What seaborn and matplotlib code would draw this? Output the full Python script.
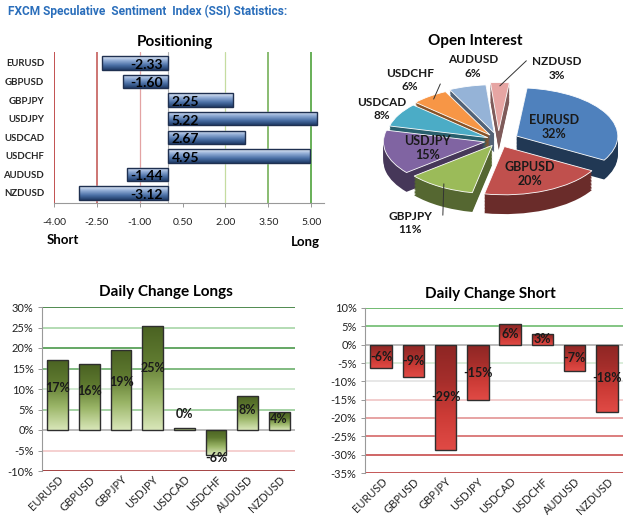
import numpy as np
import matplotlib
matplotlib.use("Agg")
import matplotlib.pyplot as plt
import seaborn as sns
from matplotlib.colors import LinearSegmentedColormap, to_rgb
from matplotlib.patches import Rectangle

# ---------------- data ----------------
pairs = ["EURUSD", "GBPUSD", "GBPJPY", "USDJPY", "USDCAD", "USDCHF", "AUDUSD", "NZDUSD"]
ssi = [-2.33, -1.60, 2.25, 5.22, 2.67, 4.95, -1.44, -3.12]
ssi_labels = ["-2.33", "-1.60", "2.25", "5.22", "2.67", "4.95", "-1.44", "-3.12"]
pos_ticks = [-4.00, -2.50, -1.00, 0.50, 2.00, 3.50, 5.00]

oi_share = [32, 20, 11, 15, 8, 6, 6, 3]
oi_labels = ["32%", "20%", "11%", "15%", "8%", "6%", "6%", "3%"]

chg_long = [17.1, 16.0, 19.6, 25.4, 0.4, -6.2, 8.3, 4.3]
chg_long_labels = ["17%", "16%", "19%", "25%", "0%", "-6%", "8%", "4%"]
long_ticks = [-10, -5, 0, 5, 10, 15, 20, 25, 30]

chg_short = [-6.5, -8.8, -28.6, -15.2, 5.6, 3.0, -7.3, -18.3]
chg_short_labels = ["-6%", "-9%", "-29%", "-15%", "6%", "3%", "-7%", "-18%"]
short_ticks = [-35, -30, -25, -20, -15, -10, -5, 0, 5, 10]

# ---------------- style ----------------
sns.set_theme(style="white")
plt.rcParams["font.family"] = ["Lato", "DejaVu Sans"]
W, H = 625, 520
fig = plt.figure(figsize=(W / 100, H / 100), dpi=100, facecolor="white")


def fax(l, t, r, b):
    return fig.add_axes([l / W, 1 - b / H, (r - l) / W, (b - t) / H])


def grad_bars(ax, cmap, edge):
    """Overlay a vertical gradient on each bar (row 0 = screen bottom)."""
    xl, yl = ax.get_xlim(), ax.get_ylim()
    inverted = yl[0] > yl[1]
    g = np.linspace(0, 1, 64).reshape(-1, 1)
    for p in list(ax.patches):
        x0, y0, w, h = p.get_x(), p.get_y(), p.get_width(), p.get_height()
        ylo, yhi = min(y0, y0 + h), max(y0, y0 + h)
        yb, yt = (yhi, ylo) if inverted else (ylo, yhi)
        im = ax.imshow(g, cmap=cmap, origin="lower", aspect="auto",
                       extent=(x0, x0 + w, yb, yt), zorder=2.1, interpolation="bicubic")
        im.set_clip_path(p)
        ax.add_patch(Rectangle((x0, y0), w, h, fill=False, edgecolor=edge,
                               linewidth=1.0, zorder=2.2))
    ax.set_xlim(xl)
    ax.set_ylim(yl)


fig.text(8 / W, 1 - 11 / H, "FXCM Speculative  Sentiment  Index (SSI) Statistics:",
         color="#2a6ebb", fontsize=8.6, fontweight="bold",
         family=["Roboto", "DejaVu Sans"], va="center", ha="left")

# ---------------- Positioning ----------------
ax1 = fax(54, 52, 324, 203)
sns.barplot(x=ssi, y=pairs, orient="h", ax=ax1, color="#4f81bd", width=0.72,
            saturation=1, zorder=2)
ax1.set_xlim(-4.0, 5.45)
ax1.set_ylim(7.54, -0.59)
blue = LinearSegmentedColormap.from_list("b", ["#1f3b66", "#4a6fa5", "#8eaad4", "#e6edf7"])
grad_bars(ax1, blue, "#1f3050")
vcols = {-4.0: "#b22222", -2.5: "#c0504d", -1.0: "#e3a3a3", 2.0: "#c5dca0",
         3.5: "#6aaa4a", 5.0: "#3f9a2a"}
for xv, c in vcols.items():
    ax1.axvline(xv, color=c, lw=1.1 if xv in (-4.0, -2.5, 3.5, 5.0) else 0.9, zorder=1)
ax1.axvline(0, color="#b0b0b0", lw=0.8, zorder=1)
for i, (v, lab) in enumerate(zip(ssi, ssi_labels)):
    if v < 0:
        ax1.text(-0.2, i + 0.1, lab, ha="right", va="center", fontsize=10,
                 fontweight="bold", color="black", zorder=5)
    else:
        ax1.text(0.12, i + 0.1, lab, ha="left", va="center", fontsize=10,
                 fontweight="bold", color="black", zorder=5)
ax1.set_xticks(pos_ticks)
ax1.set_xticklabels([f"{t:.2f}" for t in pos_ticks], fontsize=7.5, color="#222222")
ax1.tick_params(axis="x", length=3, width=0.6, color="#888888", pad=8, bottom=True)
ax1.tick_params(axis="y", length=0, pad=7)
for lab in ax1.get_yticklabels():
    lab.set_fontsize(6.9)
    lab.set_fontweight("bold")
ax1.set_xlabel("")
ax1.set_ylabel("")
for s in ("top", "right", "left"):
    ax1.spines[s].set_visible(False)
ax1.spines["bottom"].set_color("#999999")
ax1.spines["bottom"].set_linewidth(0.8)
fig.text(175 / W, 1 - 42 / H, "Positioning", ha="center", va="center",
         fontsize=11, fontweight="bold", color="black")
fig.text(47 / W, 1 - 240 / H, "Short", ha="left", va="center", fontsize=9.5,
         fontweight="bold", color="black")
fig.text(320 / W, 1 - 242 / H, "Long", ha="right", va="center", fontsize=9.5,
         fontweight="bold", color="black")

# ---------------- Open Interest ----------------
ax2 = fax(372, 55, 625, 248)
pie_cols = ["#4f81bd", "#c0504d", "#9bbb59", "#8064a2", "#4bacc6", "#f79646",
            "#95b3d7", "#e6a5a3"]
side_cols = [tuple(np.array(to_rgb(c)) * 0.55) for c in pie_cols]
side_cols[0] = (0.13, 0.22, 0.33)
explode = [0.2, 0.14, 0.12, 0.14, 0.12, 0.14, 0.16, 0.2]
start = 84
depth = 0.4
for d in np.linspace(depth, 0.02, 14):
    ax2.pie(oi_share, colors=side_cols, startangle=start, counterclock=False,
            explode=explode, center=(0, -d), wedgeprops=dict(linewidth=0))
wedges, _ = ax2.pie(oi_share, colors=pie_cols, startangle=start, counterclock=False,
                    explode=explode, center=(0, 0),
                    wedgeprops=dict(linewidth=0.6, edgecolor="white"))
ax2.set_aspect("auto")
ax2.set_xlim(-1.25, 1.25)
ax2.set_ylim(-2.23, 1.77)
inside = {"EURUSD": 0.42, "GBPUSD": 0.62, "USDJPY": 0.58}
# label anchors for outside labels, in axes fraction (x, y)
outside_pos = {"GBPJPY": (0.15, 0.13), "USDCAD": (0.04, 0.72), "USDCHF": (0.15, 0.87),
               "AUDUSD": (0.40, 0.94), "NZDUSD": (0.73, 0.93)}
for w, name, lab, ex in zip(wedges, pairs, oi_labels, explode):
    ang = np.deg2rad((w.theta1 + w.theta2) / 2)
    ca, sa = np.cos(ang), np.sin(ang)
    if name in inside:
        r = inside[name] + ex
        ax2.text(r * ca, r * sa, f"{name}\n{lab}", ha="center", va="center",
                 fontsize=9, fontweight="bold", color="#1a1a1a", linespacing=1.25,
                 zorder=10)
    else:
        tx, ty = outside_pos[name]
        ax2.text(tx, ty, f"{name}\n{lab}", ha="center", va="center",
                 transform=ax2.transAxes, fontsize=8.5, fontweight="bold",
                 color="#1a1a1a", linespacing=1.25, zorder=10)
        if name in ("GBPJPY", "USDCHF", "NZDUSD"):
            r0 = 0.93 + ex
            px, py = ax2.transData.inverted().transform(
                ax2.transAxes.transform((tx + (0.13 if name == "GBPJPY" else 0.12 if name == "USDCHF" else -0.12),
                                         ty + (0.04 if name == "GBPJPY" else -0.02 if name == "USDCHF" else 0.04))))
            ax2.plot([r0 * ca, px], [r0 * sa, py], color="#333333", lw=0.7, zorder=9)
ax2.axis("off")
fig.text(475 / W, 1 - 41 / H, "Open Interest", ha="center", va="center",
         fontsize=11, fontweight="bold", color="black")


# ---------------- daily change bars ----------------
def change_panel(ax, vals, labels, ticks, grid_cols, cmap, edge, label_y):
    sns.barplot(x=pairs, y=vals, ax=ax, color="#888888", width=0.66,
                saturation=1, zorder=2)
    ax.set_ylim(ticks[0], ticks[-1])
    ax.set_xlim(-0.5, len(pairs) - 0.5)
    grad_bars(ax, cmap, edge)
    for t, c in zip(ticks, grid_cols):
        ax.axhline(t, color=c, lw=1.1, zorder=1)
    for i, (v, lab) in enumerate(zip(vals, labels)):
        ax.text(i, label_y(v), lab, ha="center", va="center", fontsize=9,
                fontweight="bold", color="#1a1a1a", zorder=5)
    ax.set_yticks(ticks)
    ax.set_yticklabels([f"{t}%" for t in ticks], fontsize=8, color="#222222")
    ax.tick_params(axis="y", length=3, width=0.6, color="#888888", left=True, pad=3)
    ax.tick_params(axis="x", length=0, pad=2)
    ax.set_xticks(range(len(pairs)))
    ax.set_xticklabels(pairs, rotation=45, ha="right", rotation_mode="anchor",
                       fontsize=8, color="#222222")
    ax.set_xlabel("")
    ax.set_ylabel("")
    for s in ("top", "right", "bottom"):
        ax.spines[s].set_visible(False)
    ax.spines["left"].set_color("#999999")
    ax.spines["left"].set_linewidth(0.8)


ax3 = fax(42, 307, 295, 471)
green = LinearSegmentedColormap.from_list("g", ["#d8e6b8", "#9ab567", "#5f7a30", "#4a6222"])
long_grid = ["#8b1010", "#f2c4c4", "#a8a8a8", "#8cc68c", "#c5e3c5", "#5ea85e",
             "#3b8f3b", "#9fd29f", "#1f6b1f"]
change_panel(ax3, chg_long, chg_long_labels, long_ticks, long_grid, green, "#2e2e2e",
             lambda v: v + 3.5 if abs(v) < 1 else (v - 0.6 if v < 0 else v * 0.6))
fig.text(166 / W, 1 - 292 / H, "Daily Change Longs", ha="center", va="center",
         fontsize=11, fontweight="bold", color="black")

ax4 = fax(365, 308, 623, 473)
red = LinearSegmentedColormap.from_list("r", ["#e04a45", "#cc3b36", "#a52e2b", "#8e2624"])
short_grid = ["#b42a2a", "#c23c3c", "#d25a5a", "#e08a8a", "#efc0c0", "#e0e0e0",
              "#cfe8cf", "#a8a8a8", "#62b562", "#4aa84a"]
change_panel(ax4, chg_short, chg_short_labels, short_ticks, short_grid, red, "#2e2e2e",
             lambda v: v * 0.5)
fig.text(490 / W, 1 - 294 / H, "Daily Change Short", ha="center", va="center",
         fontsize=11, fontweight="bold", color="black")

fig.savefig("out.png", dpi=100, facecolor="white")
